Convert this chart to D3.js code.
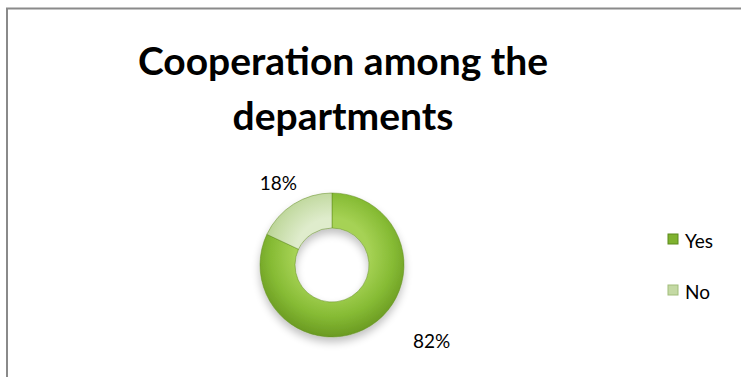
<!DOCTYPE html>
<html>
<head>
<meta charset="utf-8">
<script src="https://cdn.jsdelivr.net/npm/d3@7"></script>
<style>
  body { margin: 0; background: #fff; }
  svg { display: block; }
  text { font-family: Lato, "Open Sans", sans-serif; fill: #000; }
</style>
</head>
<body>
<div id="chart"></div>
<script>
const categories = ["Yes", "No"];
const shares = [82, 18];
const titleLines = ["Cooperation among the", "departments"];

const width = 741, height = 377;
const cx = 332, cy = 265;
const outerR = 72, innerR = 37;

const svg = d3.select("#chart").append("svg")
    .attr("width", width)
    .attr("height", height);

const defs = svg.append("defs");

// slice shading, roughly the old office "bevel" look
const grads = [
    { id: "gYes", stops: ["#a6d255", "#86bb34", "#6a9a22"] },
    { id: "gNo", stops: ["#dfeccc", "#c3daa2", "#a5c27c"] }
];
grads.forEach(g => {
    const rg = defs.append("radialGradient")
        .attr("id", g.id)
        .attr("gradientUnits", "userSpaceOnUse")
        .attr("cx", 0).attr("cy", -10).attr("r", outerR + 10);
    rg.append("stop").attr("offset", "45%").attr("stop-color", g.stops[0]);
    rg.append("stop").attr("offset", "75%").attr("stop-color", g.stops[1]);
    rg.append("stop").attr("offset", "100%").attr("stop-color", g.stops[2]);
});

const shadow = defs.append("filter").attr("id", "shadow")
    .attr("x", "-30%").attr("y", "-30%").attr("width", "160%").attr("height", "170%");
shadow.append("feGaussianBlur").attr("in", "SourceAlpha").attr("stdDeviation", 4).attr("result", "b");
shadow.append("feOffset").attr("in", "b").attr("dy", 5).attr("result", "o");
shadow.append("feComponentTransfer").attr("in", "o").attr("result", "s")
    .append("feFuncA").attr("type", "linear").attr("slope", 0.25);
const merge = shadow.append("feMerge");
merge.append("feMergeNode").attr("in", "s");
merge.append("feMergeNode").attr("in", "SourceGraphic");

// chart frame (only top and left edges fall inside the picture)
svg.append("rect")
    .attr("x", 7).attr("y", 8.5)
    .attr("width", 900).attr("height", 600)
    .attr("fill", "none")
    .attr("stroke", "#8a8a8a")
    .attr("stroke-width", 2);

// Title
svg.append("text")
    .attr("text-anchor", "middle")
    .attr("font-weight", "bold")
    .attr("font-size", 39)
    .selectAll("tspan")
    .data(titleLines)
    .enter().append("tspan")
    .attr("x", 343)
    .attr("y", (d, i) => 75 + i * 55)
    .text(d => d);

// Donut
const pie = d3.pie().sort(null).value(d => d);
const arcs = pie(shares);
const arc = d3.arc().innerRadius(innerR).outerRadius(outerR);

const g = svg.append("g")
    .attr("transform", `translate(${cx}, ${cy})`)
    .attr("filter", "url(#shadow)");

g.selectAll(".slice")
    .data(arcs)
    .enter().append("path")
    .attr("class", "slice")
    .attr("d", arc)
    .attr("fill", (d, i) => `url(#${grads[i].id})`)
    .attr("stroke", "#5f8c1e")
    .attr("stroke-opacity", 0.5)
    .attr("stroke-width", 1);

// Data labels
const labelArc = d3.arc().innerRadius(100).outerRadius(100);
svg.selectAll(".lbl")
    .data(arcs)
    .enter().append("text")
    .attr("class", "lbl")
    .attr("font-size", 19)
    .attr("text-anchor", "middle")
    .attr("x", d => {
        const c = labelArc.centroid(d);
        // the big slice's label sits further round toward the right, as in the original
        return cx + (d.index === 0 ? c[0] + 46 : c[0]);
    })
    .attr("y", d => {
        const c = labelArc.centroid(d);
        return cy + (d.index === 0 ? c[1] - 8 : c[1] + 2) + 7;
    })
    .text(d => d.data + "%");

// Legend
const legend = svg.append("g").attr("transform", "translate(668, 234)");
const item = legend.selectAll(".item")
    .data(categories)
    .enter().append("g")
    .attr("class", "item")
    .attr("transform", (d, i) => `translate(0, ${i * 51})`);

item.append("rect")
    .attr("width", 10).attr("height", 10)
    .attr("fill", (d, i) => i === 0 ? "#7fb22f" : "#c4d9a4")
    .attr("stroke", (d, i) => i === 0 ? "#5c8a1c" : "#a1bd7b")
    .attr("stroke-width", 1);

item.append("text")
    .attr("x", 17)
    .attr("y", 14)
    .attr("font-size", 19)
    .text(d => d);
</script>
</body>
</html>
